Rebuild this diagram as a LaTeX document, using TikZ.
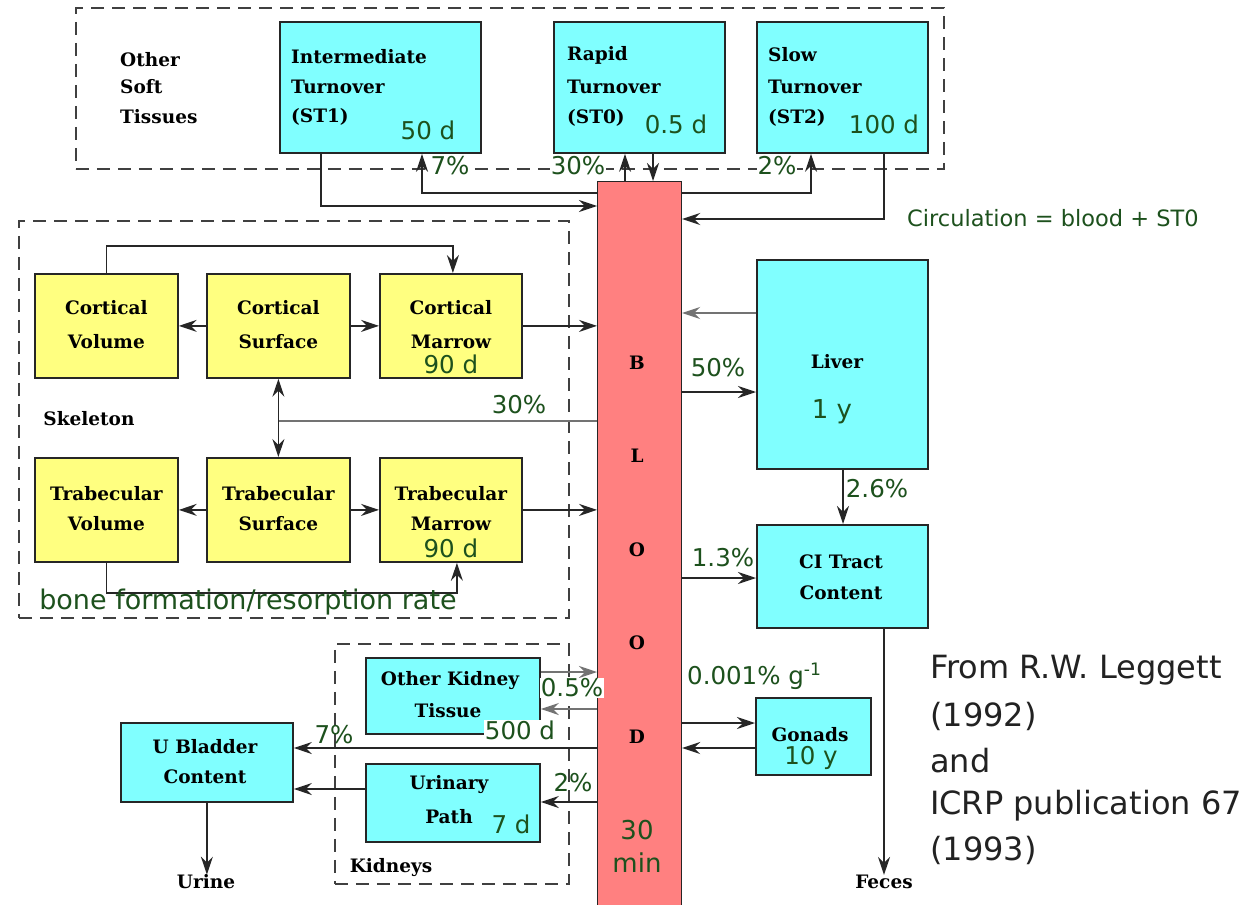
\documentclass[tikz,border=0pt]{standalone}
\usepackage{fontspec}
\setmainfont{DejaVu Serif}
\newfontfamily\gfont{DejaVu Sans}
\usetikzlibrary{arrows.meta,calc}
\definecolor{cyanbox}{HTML}{80FFFF}
\definecolor{yelbox}{HTML}{FFFF80}
\definecolor{bloodc}{HTML}{FF8080}
\definecolor{gtext}{HTML}{1D511D}
\definecolor{reftext}{HTML}{222222}
\tikzset{
 tipA/.tip={Stealth[length=18pt,width=12pt,inset=6pt]},
}
\begin{document}
\begin{tikzpicture}[x=1pt,y=-1pt,
 box/.style={draw=black!85, line width=1.8pt, rectangle, inner sep=0pt, anchor=north west},
 cbox/.style={box, fill=cyanbox},
 ybox/.style={box, fill=yelbox},
 lab/.style={font=\bfseries\fontsize{18.5}{21}\selectfont, inner sep=0pt, anchor=west},
 clab/.style={font=\bfseries\fontsize{18.5}{21}\selectfont, inner sep=0pt},
 num/.style={font=\gfont\fontsize{24.5}{26}\selectfont, text=gtext, inner sep=0pt},
 wnum/.style={num, fill=white, inner sep=1pt},
 grp/.style={draw=black!75, dash pattern=on 13pt off 8pt, line width=1.9pt, rectangle, inner sep=0pt, anchor=north west},
 arr/.style={draw=black!85, line width=1.5pt, arrows={-tipA}},
 garr/.style={arr, draw=black!55, line width=1.1pt},
 gln/.style={draw=black!55, line width=1.1pt},
 reft/.style={font=\gfont\fontsize{32}{34}\selectfont, text=reftext, inner sep=0pt, anchor=west},
]
\useasboundingbox (0,0) rectangle (1249,904);
\fill[white] (0,0) rectangle (1249,904);

% ---------- groups
\node[grp, minimum width=868, minimum height=161] (gsoft) at (75,7) {};
\node[grp, minimum width=550, minimum height=397] (gskel) at (18,220) {};
\node[grp, minimum width=234, minimum height=240] (gkid) at (334,643) {};

% ---------- boxes
\node[cbox, minimum width=201, minimum height=131] (st1) at (279,21) {};
\node[cbox, minimum width=171, minimum height=131] (rapid) at (553,21) {};
\node[cbox, minimum width=171, minimum height=131] (slow) at (756,21) {};
\node[box, fill=bloodc, line width=1.2pt, minimum width=84, minimum height=740] (blood) at (597,181) {};

\node[ybox, minimum width=143, minimum height=104] (cv) at (34,273) {};
\node[ybox, minimum width=143, minimum height=104] (cs) at (206,273) {};
\node[ybox, minimum width=142, minimum height=104] (cm) at (379,273) {};
\node[ybox, minimum width=143, minimum height=104] (tv) at (34,457) {};
\node[ybox, minimum width=143, minimum height=104] (ts) at (206,457) {};
\node[ybox, minimum width=142, minimum height=104] (tm) at (379,457) {};

\node[cbox, minimum width=171, minimum height=209] (liver) at (756,259) {};
\node[cbox, minimum width=171, minimum height=103] (gi) at (756,524) {};
\node[cbox, minimum width=115, minimum height=77] (gon) at (755,697) {};
\node[cbox, minimum width=174, minimum height=76] (okt) at (365,657) {};
\node[cbox, minimum width=174, minimum height=78] (up) at (365,763) {};
\node[cbox, minimum width=172, minimum height=79] (ub) at (120,722) {};

\node[clab] (urine) at (206,882) {Urine};
\node[clab] (feces) at (884,882) {Feces};

% ---------- texts in boxes
\node[lab] (tos1) at (120,60) {Other};
\node[lab] (tos2) at (120,87) {Soft};
\node[lab] (tos3) at (120,117) {Tissues};

\node[lab] (tst1a) at (291,57) {Intermediate};
\node[lab] (tst1b) at (291,87) {Turnover};
\node[lab] (tst1c) at (291,117) {(ST1)};
\node[num] (tst1d) at (428,130) {50 d};

\node[lab] (trpa) at (567,55) {Rapid};
\node[lab] (trpb) at (567,87) {Turnover};
\node[lab] (trpc) at (567,118) {(ST0)};
\node[num] (trpd) at (676,124) {0.5 d};

\node[lab] (tsla) at (768,55) {Slow};
\node[lab] (tslb) at (768,87) {Turnover};
\node[lab] (tslc) at (768,118) {(ST2)};
\node[num] (tsld) at (884,124) {100 d};

\node[clab] (tcv1) at ($(cv.north)+(0,35)$) {Cortical};
\node[clab] (tcv2) at ($(cv.north)+(0,69)$) {Volume};
\node[clab] (tcs1) at ($(cs.north)+(0,35)$) {Cortical};
\node[clab] (tcs2) at ($(cs.north)+(0,69)$) {Surface};
\node[clab] (tcm1) at ($(cm.north)+(0,35)$) {Cortical};
\node[clab] (tcm2) at ($(cm.north)+(0,69)$) {Marrow};
\node[num] (tcm3) at ($(cm.north)+(0,91)$) {90 d};

\node[clab] (ttv1) at ($(tv.north)+(0,37)$) {Trabecular};
\node[clab] (ttv2) at ($(tv.north)+(0,67)$) {Volume};
\node[clab] (tts1) at ($(ts.north)+(0,37)$) {Trabecular};
\node[clab] (tts2) at ($(ts.north)+(0,67)$) {Surface};
\node[clab] (ttm1) at ($(tm.north)+(0,37)$) {Trabecular};
\node[clab] (ttm2) at ($(tm.north)+(0,67)$) {Marrow};
\node[num] (ttm3) at ($(tm.north)+(0,91)$) {90 d};

\node[clab] (tskel) at (89,419) {Skeleton};

\node[clab] (tliv) at (837,362) {Liver};
\node[num, font=\gfont\fontsize{26}{28}\selectfont] (tliv2) at (832,412) {1 y};
\node[clab] (tgi1) at (841,562) {CI Tract};
\node[clab] (tgi2) at (841,593) {Content};
\node[clab] (tgon1) at (810,735) {Gonads};
\node[num] (tgon2) at (811,758) {10 y};

\node[clab] (tokt1) at (450,681) {Other Kidney};
\node[clab] (tokt2) at (448,711) {Tissue};
\node[clab] (tup1) at (449,785) {Urinary};
\node[clab] (tup2) at (449,817) {Path};
\node[num] (tup3) at (511,824) {7 d};
\node[clab] (tub1) at (205,747) {U Bladder};
\node[clab] (tub2) at (205,777) {Content};
\node[clab] (tkid) at (391,868) {Kidneys};

% blood letters
\node[clab] (bB) at (637,363) {B};
\node[clab] (bL) at (637,456) {L};
\node[clab] (bO1) at (637,550) {O};
\node[clab] (bO2) at (637,643) {O};
\node[clab] (bD) at (637,737) {D};
\node[num, font=\gfont\fontsize{26}{28}\selectfont] (b30) at (637,830) {30};
\node[num, font=\gfont\fontsize{26}{28}\selectfont] (bmin) at (637,863) {min};

% ---------- connectors: soft tissues
\draw[arr] (st1.south -| 321,0) |- (blood.west |- 0,206);
\draw[arr] (blood.west |- 0,193) -| (st1.south -| 422,0);
\draw[arr] (blood.north -| 625,0) -- (rapid.south -| 625,0);
\draw[arr] (rapid.south -| 653,0) -- (blood.north -| 653,0);
\draw[arr] (blood.east |- 0,193) -| (slow.south -| 811,0);
\draw[arr] (slow.south -| 884,0) |- (blood.east |- 0,219);

% skeleton
\draw[arr] (cv.north) -- ++(0,-27) -| ([xshift=2pt]cm.north);
\draw[arr] (cs.west) -- (cv.east);
\draw[arr] (cs.east) -- (cm.west);
\draw[arr] (cm.east) -- (blood.west |- cm.east);
\coordinate (j30) at (cs.south |- 0,421);
\draw[gln] (blood.west |- 0,421) -- (j30);
\draw[arr] (j30) -- (cs.south);
\draw[arr] (j30) -- (ts.north);
\draw[arr] (ts.west) -- (tv.east);
\draw[arr] (ts.east) -- (tm.west);
\draw[arr] (tm.east) -- (blood.west |- tm.east);
\draw[arr] (tv.south) -- ++(0,30) -| ([xshift=6pt]tm.south);

% liver, GI, gonads
\draw[garr] (liver.west |- 0,313) -- (blood.east |- 0,313);
\draw[arr] (blood.east |- 0,392) -- (liver.west |- 0,392);
\draw[arr] (liver.south -| 843,0) -- (gi.north -| 843,0);
\draw[arr] (blood.east |- 0,578) -- (gi.west |- 0,578);
\draw[arr] (gi.south -| 884,0) -- (feces.north -| 884,0);
\draw[arr] (blood.east |- 0,723) -- (gon.west |- 0,723);
\draw[arr] (gon.west |- 0,748) -- (blood.east |- 0,748);

% kidneys
\draw[garr] (okt.east |- 0,672) -- (blood.west |- 0,672);
\draw[garr] (blood.west |- 0,709) -- (okt.east |- 0,709);
\draw[arr] (blood.west |- 0,748) -- (ub.east |- 0,748);
\draw[arr] (up.west |- 0,789) -- (ub.east |- 0,789);
\draw[arr] (blood.west |- 0,802) -- (up.east |- 0,802);
\draw[arr] (ub.south) -- (ub.south |- urine.north);

% ---------- percentage labels
\node[wnum] (p7a) at (450,166) {7\%};
\node[wnum] (p30a) at (578,166) {30\%};
\node[wnum] (p2a) at (777,166) {2\%};
\node[num, font=\gfont\fontsize{22.5}{24}\selectfont, anchor=west] (circ) at (907,218) {Circulation = blood + ST0};
\node[num] (p30b) at (519,405) {30\%};
\node[num, font=\gfont\fontsize{27}{29}\selectfont] (bone) at (248,602) {bone formation/resorption rate};
\node[num] (p50) at (718,368) {50\%};
\node[num] (p26) at (877,489) {2.6\%};
\node[num] (p13) at (723,558) {1.3\%};
\node[num, anchor=west] (pgon) at (687,676) {0.001\% g\textsuperscript{-1}};
\node[wnum] (p05) at (572,688) {0.5\%};
\node[wnum] (p500) at (520,730) {500 d};
\node[num] (p7b) at (334,735) {7\%};
\node[num] (p2b) at (573,783) {2\%};

% ---------- reference
\node[reft] (r1) at (930,670) {From R.W. Leggett};
\node[reft] (r2) at (930,716) {(1992)};
\node[reft] (r3) at (930,761) {and};
\node[reft] (r4) at (930,806) {ICRP publication 67};
\node[reft] (r5) at (930,850) {(1993)};
\end{tikzpicture}
\end{document}
